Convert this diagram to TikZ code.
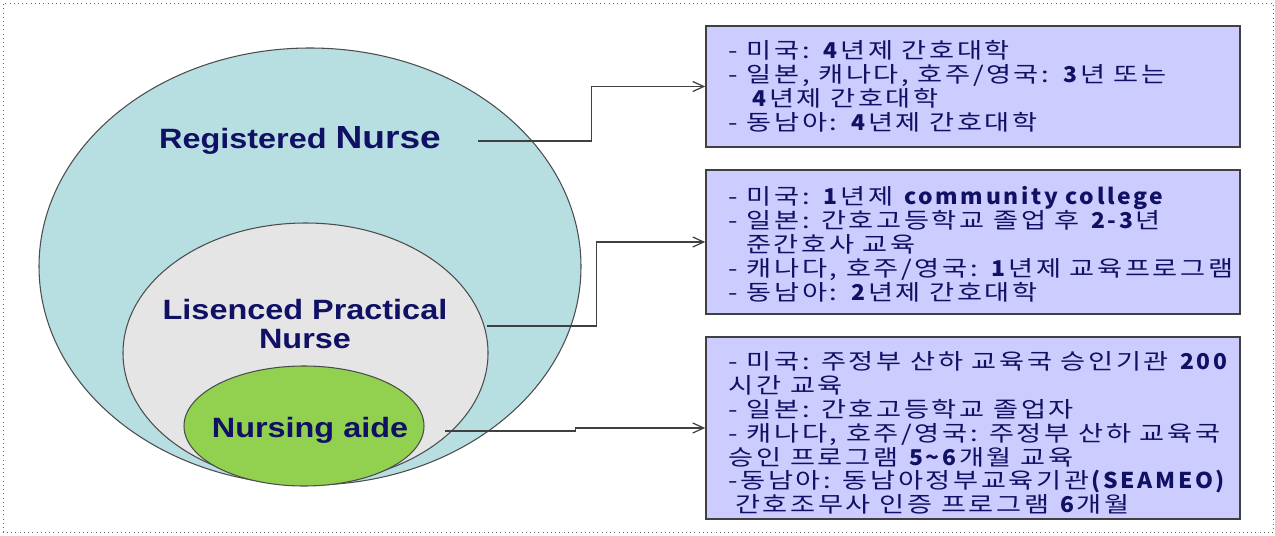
\documentclass[tikz,border=0pt]{standalone}
\usepackage{fontspec}
\setmainfont{Noto Sans CJK KR}[FakeStretch=1.25,LetterSpace=12,BoldFeatures={FakeStretch=1.05}]
\newfontfamily\lblfont{Liberation Sans}[FakeStretch=1.16]
\usetikzlibrary{calc,arrows.meta}
\definecolor{ink}{RGB}{16,16,100}
\definecolor{rnfill}{RGB}{183,222,225}
\definecolor{lpnfill}{RGB}{229,229,229}
\definecolor{nafill}{RGB}{146,208,80}
\definecolor{boxfill}{RGB}{204,204,255}
\tikzset{
    ring/.style={draw=black!70,line width=0.6pt},
    lbl/.style={text=ink,font=\lblfont\bfseries\fontsize{15.9}{16.5}\selectfont,align=center},
    infobox/.style={draw=black!75,line width=0.9pt,fill=boxfill,minimum width=10.68cm},
    boxtext/.style={text=ink,inner sep=0pt,align=left,anchor=west,font=\fontsize{12.4}{13.6}\selectfont},
    link/.style={draw=black!75,line width=0.7pt,-{Straight Barb[length=2.2mm,width=2mm]}}
}
\newcommand{\ring}[5]{\draw[ring,fill=#5] (#1,#2) ellipse (#3cm and #4cm);}
\newcommand{\infobox}[5]{\node[infobox,minimum height=#3cm] (#1) at (19.46,#2) {};
    \node[boxtext] (#1text) at ([xshift=0.46cm,yshift=#4cm]#1.west) {#5};}
\newcommand{\elbowlink}[2]{\draw[link] (#1) -| ($(#1)!.5!(#2.west)$) |- (#2.west);}

\begin{document}
\begin{tikzpicture}
    \useasboundingbox (0,0) rectangle (25.5,10.7);
    \draw[dotted,black!60] (0.06,0.06) rectangle (25.46,10.64);

    \ring{6.2}{5.37}{5.42}{4.37}{rnfill}
    \ring{6.11}{3.64}{3.65}{2.6}{lpnfill}
    \ring{6.08}{2.18}{2.4}{1.2}{nafill}

    \node[lbl] (rn) at (6.0,7.9) {Registered {\fontsize{18.2}{19}\selectfont Nurse}};
    \node[lbl] (lpn) at (6.1,4.21) {Lisenced Practical\\Nurse};
    \node[lbl] (na) at (6.2,2.1) {Nursing aide};

    \infobox{rnbox}{8.97}{2.42}{0}{- 미국: \textbf{4}년제 간호대학\\
        - 일본, 캐나다, 호주/영국: \textbf{3}년 또는\\
        \hspace*{1.1em}\textbf{4}년제 간호대학\\
        - 동남아: \textbf{4}년제 간호대학}
    \infobox{lpnbox}{5.86}{2.88}{-0.04}{- 미국: \textbf{1}년제 \textbf{community college}\\
        - 일본: 간호고등학교 졸업 후 \textbf{2-3}년\\
        \hspace*{0.8em}준간호사 교육\\
        - 캐나다, 호주/영국: \textbf{1}년제 교육프로그램\\
        - 동남아: \textbf{2}년제 간호대학}
    \infobox{nabox}{2.14}{3.64}{-0.1}{- 미국: 주정부 산하 교육국 승인기관 \textbf{200}\\
        시간 교육\\
        - 일본: 간호고등학교 졸업자\\
        - 캐나다, 호주/영국: 주정부 산하 교육국\\
        승인 프로그램 \textbf{5\textasciitilde 6}개월 교육\\
        -동남아: 동남아정부교육기관\textbf{(SEAMEO)}\\
        \hspace*{0.3em}간호조무사 인증 프로그램 \textbf{6}개월}

    \coordinate (rnout) at (9.56,7.88);
    \coordinate (lpnout) at (9.74,4.18);
    \coordinate (naout) at (8.9,2.08);
    \elbowlink{rnout}{rnbox}
    \elbowlink{lpnout}{lpnbox}
    \elbowlink{naout}{nabox}
\end{tikzpicture}
\end{document}
